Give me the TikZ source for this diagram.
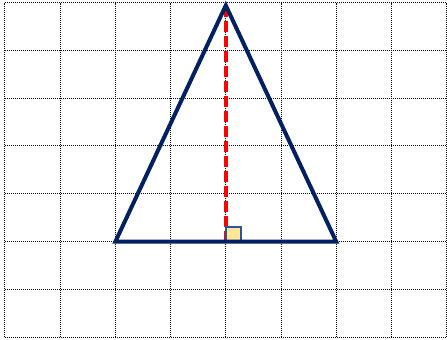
\documentclass[tikz,border=0pt]{standalone}
\usepackage{tikz}
\usetikzlibrary{calc}
\definecolor{azulescuro}{HTML}{002060}
\definecolor{azulborda}{HTML}{2F5597}
\definecolor{amareloclaro}{HTML}{FFE699}

\begin{document}
\begin{tikzpicture}[x=55.2pt, y=47.8pt,
  gridline/.style={black, line width=1pt, dash pattern=on 1pt off 1pt},
  side/.style={azulescuro, line width=4pt, line join=miter},
  altitude/.style={red, line width=3.5pt, dash pattern=on 11pt off 4pt},
  rightmark/.style={azulborda, fill=amareloclaro, line width=2pt}]
  % Limites da figura
  \useasboundingbox (-5pt,-2.4pt) rectangle ($(8,7)+(0.4pt,2.6pt)$);
  % Malha pontilhada
  \foreach \i in {0,...,8} \draw[gridline] (\i,0) -- (\i,7);
  \foreach \j in {0,...,7} \draw[gridline] (0,\j) -- (8,\j);
  % Vértices do triângulo
  \coordinate (B) at (2,2);
  \coordinate (C) at (6,2);
  \coordinate (A) at (4,6.94);
  \coordinate (H) at (4,2);
  % Altura
  \draw[altitude] (H) -- (A);
  % Ângulo reto
  \draw[rightmark] (H) rectangle ++(15pt,15pt);
  % Lados
  \draw[side] (A) -- (B) -- (C) -- cycle;
\end{tikzpicture}
\end{document}
